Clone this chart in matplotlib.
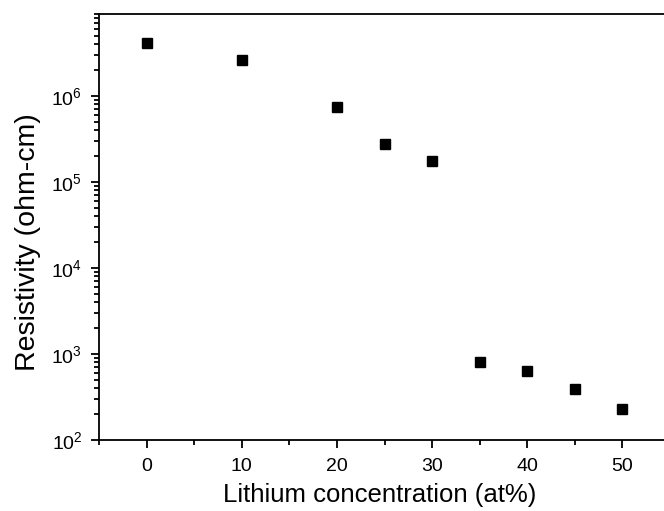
import numpy as np
import matplotlib
matplotlib.use('Agg')
import matplotlib.pyplot as plt
from matplotlib.ticker import LogLocator, MultipleLocator

# data
li_conc = [0, 10, 20, 25, 30, 35, 40, 45, 50]
resistivity = [4.1e6, 2.66e6, 7.4e5, 2.75e5, 1.74e5, 805, 632, 390, 229]

plt.rcParams['font.family'] = ['Liberation Sans', 'DejaVu Sans']
plt.rcParams['mathtext.fontset'] = 'custom'
plt.rcParams['mathtext.rm'] = 'Liberation Sans'
plt.rcParams['mathtext.it'] = 'Liberation Sans'

fig = plt.figure(figsize=(6.64, 5.11), dpi=100)
ax = fig.add_axes([99 / 664, 1 - 440 / 511, 571 / 664, 426 / 511])

ax.plot(li_conc, resistivity, 's', color='black', markersize=7.5)

ax.set_yscale('log')
ax.set_xlim(-5, 55)
ax.set_ylim(1e2, 9e6)

ax.xaxis.set_major_locator(MultipleLocator(10))
ax.xaxis.set_minor_locator(MultipleLocator(5))
ax.yaxis.set_major_locator(LogLocator(base=10))
ax.yaxis.set_minor_locator(LogLocator(base=10, subs=np.arange(2, 10)))

for side in ['left', 'bottom', 'top']:
    ax.spines[side].set_linewidth(1.3)
ax.spines['right'].set_visible(False)

ax.tick_params(which='major', direction='out', length=6, width=1.3, labelsize=14)
ax.tick_params(axis='x', which='major', pad=7)
ax.tick_params(axis='y', which='major', pad=6)
ax.tick_params(which='minor', direction='out', length=3.5, width=1.3)
ax.tick_params(top=False, right=False, which='both')

ax.set_xlabel('Lithium concentration (at%)', fontsize=18.5)
ax.set_ylabel('Resistivity (ohm-cm)', fontsize=20.5)
ax.xaxis.set_label_coords(0.492, -0.1)
ax.yaxis.set_label_coords(-0.1016, 0.465)

fig.savefig('out.png', dpi=100)
